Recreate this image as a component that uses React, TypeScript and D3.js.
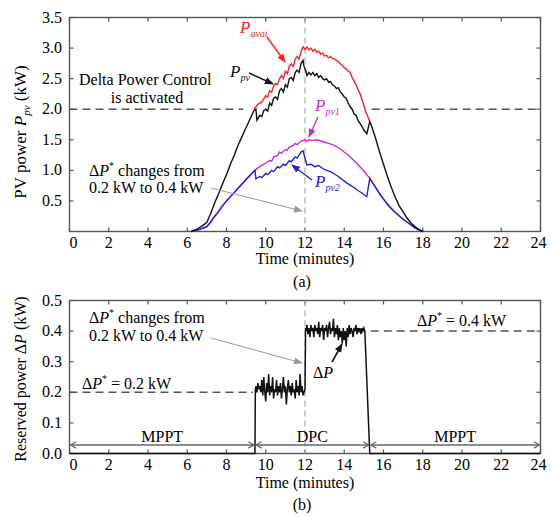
import * as d3 from 'd3';
import React from 'react';

type Pt = [number, number];

// tick values
const xTicks = [0, 2, 4, 6, 8, 10, 12, 14, 16, 18, 20, 22, 24];
const yTicksA = [0.5, 1.0, 1.5, 2.0, 2.5, 3.0, 3.5];
const yTicksB = [0.0, 0.1, 0.2, 0.3, 0.4, 0.5];

// (a) available power, only drawn while DPC is on (elsewhere it equals Ppv)
const pAvai: Pt[] = [
  [9.4, 2.0], [9.6, 2.08], [9.8, 2.12], [10.0, 2.22], [10.1, 2.2], [10.2, 2.3], [10.3, 2.28],
  [10.4, 2.38], [10.5, 2.42], [10.6, 2.4], [10.7, 2.5], [10.8, 2.55], [10.9, 2.5], [11.0, 2.62],
  [11.1, 2.58], [11.2, 2.7], [11.3, 2.74], [11.4, 2.7], [11.5, 2.82], [11.6, 2.86], [11.7, 2.82],
  [11.8, 2.95], [11.9, 3.02], [12.0, 2.98], [12.1, 3.02], [12.2, 2.97], [12.3, 3.0], [12.4, 2.95],
  [12.5, 2.98], [12.6, 2.93], [12.7, 2.95], [12.8, 2.9], [12.9, 2.92], [13.0, 2.87], [13.1, 2.88],
  [13.2, 2.84], [13.3, 2.86], [13.4, 2.83], [13.5, 2.82], [13.6, 2.8], [13.7, 2.78], [13.8, 2.74],
  [13.9, 2.72], [14.0, 2.68], [14.1, 2.66], [14.2, 2.62], [14.3, 2.6], [14.4, 2.52], [14.5, 2.46],
  [14.6, 2.4], [14.7, 2.32], [14.8, 2.26], [14.9, 2.16], [15.0, 2.06], [15.1, 1.96], [15.2, 1.88],
  [15.3, 1.8],
];

// (a) total PV power
const pPv: Pt[] = [
  [6.2, 0.0], [6.5, 0.04], [6.8, 0.1], [7.0, 0.15], [7.2, 0.3], [7.4, 0.47], [7.6, 0.62],
  [7.8, 0.78], [8.0, 0.93], [8.2, 1.1], [8.4, 1.25], [8.6, 1.42], [8.8, 1.56], [9.0, 1.7],
  [9.2, 1.84], [9.4, 1.98], [9.5, 2.0], [9.55, 1.82], [9.7, 1.9], [9.8, 1.88], [9.9, 1.98],
  [10.0, 2.0], [10.1, 1.97], [10.2, 2.1], [10.3, 2.06], [10.4, 2.18], [10.5, 2.2], [10.6, 2.16],
  [10.7, 2.3], [10.8, 2.34], [10.9, 2.28], [11.0, 2.4], [11.1, 2.36], [11.2, 2.5], [11.3, 2.52],
  [11.4, 2.47], [11.5, 2.6], [11.6, 2.64], [11.7, 2.6], [11.8, 2.75], [11.9, 2.8], [11.95, 2.7],
  [12.05, 2.62], [12.1, 2.55], [12.2, 2.6], [12.3, 2.56], [12.4, 2.6], [12.5, 2.55], [12.6, 2.58],
  [12.7, 2.52], [12.8, 2.55], [12.9, 2.5], [13.0, 2.48], [13.1, 2.5], [13.2, 2.44], [13.3, 2.45],
  [13.4, 2.4], [13.5, 2.38], [13.6, 2.34], [13.7, 2.35], [13.8, 2.28], [13.9, 2.25], [14.0, 2.2],
  [14.1, 2.18], [14.2, 2.1], [14.3, 2.04], [14.4, 2.0], [14.5, 1.92], [14.6, 1.9], [14.7, 1.82],
  [14.8, 1.77], [14.9, 1.72], [15.0, 1.66], [15.1, 1.62], [15.15, 1.6], [15.3, 1.8], [15.4, 1.72],
  [15.5, 1.62], [15.6, 1.52], [15.8, 1.3], [16.0, 1.1], [16.2, 0.9], [16.4, 0.72], [16.6, 0.56],
  [16.8, 0.42], [17.0, 0.32], [17.2, 0.22], [17.4, 0.14], [17.6, 0.08], [17.8, 0.03], [18.0, 0.0],
];

// (a) string 1
const pPv1: Pt[] = [
  [6.2, 0.0], [6.6, 0.03], [7.0, 0.08], [7.2, 0.16], [7.4, 0.25], [7.6, 0.33], [7.8, 0.42],
  [8.0, 0.5], [8.2, 0.57], [8.4, 0.64], [8.6, 0.71], [8.8, 0.78], [9.0, 0.85], [9.2, 0.92],
  [9.45, 1.0], [9.6, 1.04], [9.8, 1.08], [10.0, 1.12], [10.2, 1.16], [10.3, 1.15], [10.4, 1.22],
  [10.6, 1.24], [10.7, 1.3], [10.8, 1.28], [11.0, 1.34], [11.1, 1.33], [11.2, 1.38], [11.4, 1.41],
  [11.5, 1.44], [11.6, 1.42], [11.8, 1.48], [12.0, 1.5], [12.1, 1.47], [12.2, 1.5], [12.4, 1.49],
  [12.6, 1.5], [12.8, 1.48], [13.0, 1.46], [13.2, 1.44], [13.4, 1.42], [13.6, 1.39], [13.8, 1.35],
  [14.0, 1.3], [14.2, 1.25], [14.4, 1.19], [14.6, 1.13], [14.8, 1.06], [15.0, 0.99], [15.2, 0.91],
  [15.3, 0.87], [15.5, 0.77], [15.8, 0.62], [16.0, 0.53], [16.3, 0.41], [16.6, 0.31], [17.0, 0.2],
  [17.3, 0.13], [17.6, 0.06], [18.0, 0.0],
];

// (a) string 2
const pPv2: Pt[] = [
  [6.2, 0.0], [6.6, 0.03], [7.0, 0.08], [7.2, 0.16], [7.4, 0.25], [7.6, 0.33], [7.8, 0.42],
  [8.0, 0.5], [8.2, 0.57], [8.4, 0.64], [8.6, 0.71], [8.8, 0.78], [9.0, 0.85], [9.2, 0.92],
  [9.45, 1.0], [9.5, 0.86], [9.7, 0.9], [9.8, 0.88], [10.0, 0.95], [10.1, 0.93], [10.3, 1.0],
  [10.4, 0.98], [10.6, 1.06], [10.7, 1.04], [10.9, 1.1], [11.0, 1.08], [11.2, 1.16], [11.3, 1.14],
  [11.5, 1.22], [11.6, 1.2], [11.8, 1.3], [11.9, 1.32], [12.0, 1.2], [12.1, 1.09], [12.3, 1.1],
  [12.5, 1.06], [12.7, 1.08], [12.9, 1.03], [13.1, 1.0], [13.3, 0.98], [13.5, 0.94], [13.7, 0.9],
  [13.9, 0.85], [14.1, 0.8], [14.3, 0.76], [14.5, 0.72], [14.7, 0.67], [14.9, 0.63], [15.1, 0.58],
  [15.15, 0.57], [15.3, 0.87], [15.5, 0.77], [15.8, 0.62], [16.0, 0.53], [16.3, 0.41], [16.6, 0.31],
  [17.0, 0.2], [17.3, 0.13], [17.6, 0.06], [18.0, 0.0],
];

// (b) reserved power
const dP: Pt[] = [
  [0, 0], [9.45, 0], [9.47, 0.21], [9.5, 0.22], [9.55, 0.2], [9.6, 0.23], [9.65, 0.21], [9.7, 0.22],
  [9.75, 0.2], [9.8, 0.24], [9.85, 0.19], [9.9, 0.25], [9.95, 0.2], [10.0, 0.17], [10.05, 0.23],
  [10.1, 0.2], [10.15, 0.26], [10.2, 0.19], [10.25, 0.22], [10.3, 0.2], [10.35, 0.25], [10.4, 0.18],
  [10.45, 0.21], [10.5, 0.2], [10.55, 0.24], [10.6, 0.19], [10.65, 0.22], [10.7, 0.2], [10.75, 0.23],
  [10.8, 0.18], [10.85, 0.21], [10.9, 0.25], [10.95, 0.2], [11.0, 0.22], [11.05, 0.16], [11.1, 0.21],
  [11.15, 0.24], [11.2, 0.2], [11.25, 0.22], [11.3, 0.19], [11.35, 0.23], [11.4, 0.2], [11.45, 0.21],
  [11.5, 0.18], [11.55, 0.24], [11.6, 0.2], [11.65, 0.22], [11.7, 0.19], [11.75, 0.26], [11.8, 0.2],
  [11.85, 0.22], [11.9, 0.19], [11.95, 0.2], [12.0, 0.21], [12.03, 0.41], [12.05, 0.4], [12.1, 0.42],
  [12.15, 0.39], [12.2, 0.41], [12.25, 0.38], [12.3, 0.42], [12.35, 0.4], [12.4, 0.41], [12.45, 0.38],
  [12.5, 0.42], [12.55, 0.4], [12.6, 0.41], [12.65, 0.39], [12.7, 0.43], [12.75, 0.38], [12.8, 0.41],
  [12.85, 0.4], [12.9, 0.42], [12.95, 0.37], [13.0, 0.41], [13.05, 0.4], [13.1, 0.42], [13.15, 0.38],
  [13.2, 0.41], [13.25, 0.43], [13.3, 0.39], [13.35, 0.41], [13.4, 0.4], [13.45, 0.44], [13.5, 0.38],
  [13.55, 0.41], [13.6, 0.39], [13.65, 0.42], [13.7, 0.37], [13.75, 0.41], [13.8, 0.38], [13.85, 0.4],
  [13.9, 0.36], [13.95, 0.41], [14.0, 0.37], [14.05, 0.4], [14.1, 0.35], [14.15, 0.41], [14.2, 0.38],
  [14.25, 0.42], [14.3, 0.39], [14.35, 0.41], [14.4, 0.4], [14.45, 0.38], [14.5, 0.41], [14.55, 0.4],
  [14.6, 0.42], [14.65, 0.39], [14.7, 0.41], [14.75, 0.4], [14.8, 0.41], [14.85, 0.39], [14.9, 0.41],
  [14.95, 0.4], [15.0, 0.41], [15.05, 0.4], [15.3, 0.0], [24, 0],
];

// mode boundaries (minutes)
const tDpcOn = 9.45;
const tStep = 12;
const tDpcOff = 15.3;

const FONT = '"Liberation Serif", "Times New Roman", serif';

// Δ P* helper
const DeltaStar = ({ rest }: { rest: string }) => (
  <>
    <tspan>Δ</tspan>
    <tspan fontStyle="italic">P</tspan>
    <tspan dy={-7} fontSize={10}>*</tspan>
    <tspan dy={7}>{rest}</tspan>
  </>
);

const PSub = ({ x, y, sub, color }: { x: number; y: number; sub: string; color: string }) => (
  <text x={x} y={y} fill={color} fontSize={17} fontStyle="italic">
    P<tspan dy={4} fontSize={10}>{sub}</tspan>
  </text>
);

const App = () => {
  const x = d3.scaleLinear([0, 24], [69.5, 540.5]);
  const yA = d3.scaleLinear([0, 3.5], [231.5, 17.5]);
  const yB = d3.scaleLinear([0, 0.5], [453.5, 300.5]);

  const lineA = d3.line<Pt>(d => x(d[0]), d => yA(d[1]));
  const lineB = d3.line<Pt>(d => x(d[0]), d => yB(d[1]));

  // 0 and 24 labels sit a little inside the frame
  const labelShift = (t: number) => (t === 0 ? 4 : t === 24 ? -2 : 0);

  const frame = (y: d3.ScaleLinear<number, number>, yt: number[], fmt: (v: number) => string, top: number, bottom: number) => (
    <g>
      <rect x={69.5} y={top} width={471} height={bottom - top} fill="none" stroke="#555" strokeWidth={1.4} />
      {xTicks.map(t => (
        <g key={'x' + t}>
          <line x1={x(t)} x2={x(t)} y1={bottom} y2={bottom - 4} stroke="#555" strokeWidth={1.2} />
          <line x1={x(t)} x2={x(t)} y1={top} y2={top + 4} stroke="#555" strokeWidth={1.2} />
          <text x={x(t) + labelShift(t)} y={bottom + 16} textAnchor="middle" fontSize={16}>{t}</text>
        </g>
      ))}
      {yt.map(v => (
        <g key={'y' + v}>
          <line x1={69.5} x2={73.5} y1={y(v)} y2={y(v)} stroke="#555" strokeWidth={1.2} />
          <line x1={540.5} x2={536.5} y1={y(v)} y2={y(v)} stroke="#555" strokeWidth={1.2} />
          <text x={62} y={y(v) + 5} textAnchor="end" fontSize={16}>{fmt(v)}</text>
        </g>
      ))}
    </g>
  );

  const f1 = d3.format('.1f');

  return (
    <svg width={551} height={517} style={{ position: 'absolute', left: 0, top: 0, background: '#fff' }} fontFamily={FONT}>
      <defs>
        {[['k', '#111'], ['r', '#ff2020'], ['m', '#c030d0'], ['b', '#2020e0'], ['g', '#999']].map(([id, c]) => (
          <marker key={id} id={'ah-' + id} viewBox="0 0 10 10" refX={9} refY={5} markerWidth={9} markerHeight={9}
            markerUnits="userSpaceOnUse" orient="auto">
            <path d="M0,1 L10,5 L0,9 Z" fill={c} />
          </marker>
        ))}
        <marker id="chev" viewBox="0 0 10 10" refX={9} refY={5} markerWidth={8} markerHeight={8}
          markerUnits="userSpaceOnUse" orient="auto-start-reverse">
          <path d="M2,1 L9,5 L2,9" fill="none" stroke="#666" strokeWidth={1.5} />
        </marker>
      </defs>

      {/* ---------- (a) ---------- */}
      {frame(yA, yTicksA, f1, 17.5, 231.5)}
      <line x1={x(0)} x2={x(8.85)} y1={yA(2)} y2={yA(2)} stroke="#555" strokeWidth={1.5} strokeDasharray="8,5" />
      <line x1={x(15.4)} x2={x(24)} y1={yA(2)} y2={yA(2)} stroke="#555" strokeWidth={1.5} strokeDasharray="8,5" />
      <line x1={x(tStep)} x2={x(tStep)} y1={17.5} y2={231.5} stroke="#aaa" strokeWidth={1.2} strokeDasharray="6,4" />

      <path d={lineA(pPv1) ?? ''} fill="none" stroke="#c030d0" strokeWidth={1.4} />
      <path d={lineA(pPv2) ?? ''} fill="none" stroke="#2020e0" strokeWidth={1.4} />
      <path d={lineA(pAvai) ?? ''} fill="none" stroke="#ff2020" strokeWidth={1.4} />
      <path d={lineA(pPv) ?? ''} fill="none" stroke="#111" strokeWidth={1.4} />

      <text x={79} y={85} fontSize={16}>Delta Power Control</text>
      <text x={147} y={103} fontSize={16} textAnchor="middle">is activated</text>

      <text x={89} y={176} fontSize={16}><DeltaStar rest=" changes from" /></text>
      <text x={89} y={193} fontSize={16}>0.2 kW to 0.4 kW</text>
      <line x1={211} y1={188} x2={302} y2={211} stroke="#999" strokeWidth={1} markerEnd="url(#ah-g)" />

      <PSub x={240} y={33} sub="avai" color="#ff2020" />
      <line x1={267} y1={37} x2={285} y2={62} stroke="#ff2020" strokeWidth={1.4} markerEnd="url(#ah-r)" />
      <PSub x={230} y={77} sub="pv" color="#111" />
      <line x1={249} y1={73} x2={273} y2={84} stroke="#111" strokeWidth={1.4} markerEnd="url(#ah-k)" />
      <PSub x={315} y={111} sub="pv1" color="#c030d0" />
      <line x1={318} y1={117} x2={309} y2={137} stroke="#c030d0" strokeWidth={1.4} markerEnd="url(#ah-m)" />
      <PSub x={315} y={187} sub="pv2" color="#2020e0" />
      <line x1={312} y1={180} x2={292} y2={165} stroke="#2020e0" strokeWidth={1.4} markerEnd="url(#ah-b)" />

      <text transform="translate(26,132) rotate(-90)" textAnchor="middle" fontSize={17}>
        PV power <tspan fontStyle="italic">P</tspan><tspan dy={4} fontSize={11} fontStyle="italic">pv</tspan><tspan dy={-4}> (kW)</tspan>
      </text>
      <text x={305} y={264} textAnchor="middle" fontSize={16}>Time (minutes)</text>
      <text x={302} y={287} textAnchor="middle" fontSize={16}>(a)</text>

      {/* ---------- (b) ---------- */}
      {frame(yB, yTicksB, f1, 300.5, 453.5)}
      <line x1={x(0)} x2={x(9.35)} y1={yB(0.2)} y2={yB(0.2)} stroke="#555" strokeWidth={1.5} strokeDasharray="8,5" />
      <line x1={x(15.35)} x2={x(24)} y1={yB(0.4)} y2={yB(0.4)} stroke="#555" strokeWidth={1.5} strokeDasharray="8,5" />
      <line x1={x(tStep)} x2={x(tStep)} y1={300.5} y2={453.5} stroke="#aaa" strokeWidth={1.2} strokeDasharray="6,4" />

      <path d={lineB(dP) ?? ''} fill="none" stroke="#111" strokeWidth={1.5} />

      {[[0, tDpcOn, 'MPPT'], [tDpcOn, tDpcOff, 'DPC'], [tDpcOff, 24, 'MPPT']].map(([a, b, lab], i) => (
        <g key={'m' + i}>
          <line x1={x(a as number) + 1} x2={x(b as number) - 1} y1={yB(0.028)} y2={yB(0.028)} stroke="#666" strokeWidth={1.4}
            markerStart="url(#chev)" markerEnd="url(#chev)" />
          <text x={(x(a as number) + x(b as number)) / 2} y={yB(0.028) - 3} textAnchor="middle" fontSize={16}>{lab}</text>
        </g>
      ))}

      <text x={89} y={323} fontSize={16}><DeltaStar rest=" changes from" /></text>
      <text x={89} y={341} fontSize={16}>0.2 kW to 0.4 kW</text>
      <line x1={211} y1={338} x2={302} y2={363} stroke="#999" strokeWidth={1} markerEnd="url(#ah-g)" />
      <text x={82} y={389} fontSize={16}><DeltaStar rest=" = 0.2 kW" /></text>
      <text x={417} y={326} fontSize={16}><DeltaStar rest=" = 0.4 kW" /></text>
      <text x={313} y={378} fontSize={16}>Δ<tspan fontStyle="italic">P</tspan></text>
      <line x1={332} y1={362} x2={342} y2={344} stroke="#111" strokeWidth={1.6} markerEnd="url(#ah-k)" />

      <text transform="translate(26,379) rotate(-90)" textAnchor="middle" fontSize={16}>
        Reserved power Δ<tspan fontStyle="italic">P</tspan> (kW)
      </text>
      <text x={305} y={488} textAnchor="middle" fontSize={16}>Time (minutes)</text>
      <text x={302} y={510} textAnchor="middle" fontSize={16}>(b)</text>
    </svg>
  );
};

export default App;
